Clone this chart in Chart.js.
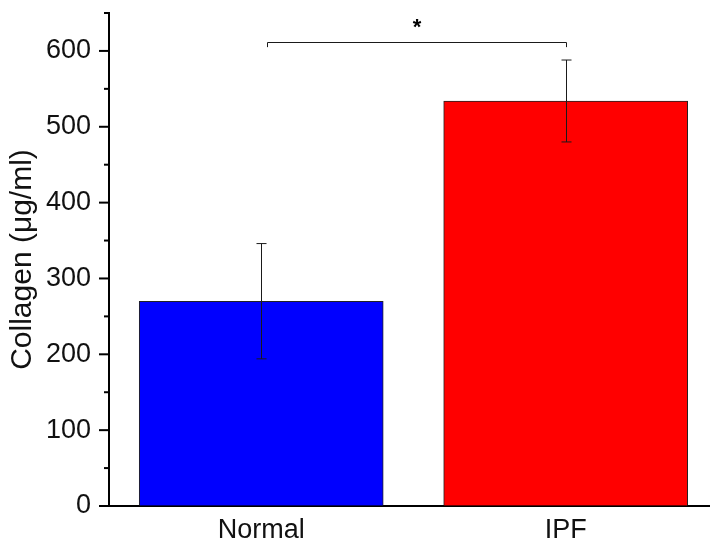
<!DOCTYPE html>
<html>
<head>
<meta charset="utf-8">
<script src="https://cdn.jsdelivr.net/npm/chart.js@4/dist/chart.umd.min.js"></script>
<style>
  html, body { margin: 0; padding: 0; background: #fff; }
  #wrap { position: relative; width: 710px; height: 539px; }
</style>
</head>
<body>
<div id="wrap"><canvas id="collagenChart"></canvas></div>
<script>
// data
const categories = ['Normal', 'IPF'];
const xPositions = [1, 2];
const collagenMean = [270, 534];
const collagenErr = [76, 54];
const barColors = ['#0000ff', '#ff0000'];
const yMin = 0;
const yMax = 650;
const yStep = 50;
const yLabelStep = 100;
const sigFrom = 1.02;
const sigTo = 2;
const sigLevel = 612;
const sigDrop = 7;
const sigText = '*';

const FONT = "'Liberation Sans', Arial, sans-serif";

const overlay = {
    id: 'overlay',
    afterDraw(chart) {
        const ctx = chart.ctx;
        const xs = chart.scales.x;
        const ys = chart.scales.y;
        ctx.save();

        // error bars
        ctx.strokeStyle = '#1a1a1a';
        ctx.lineWidth = 1;
        collagenMean.forEach((m, i) => {
            const x = Math.round(xs.getPixelForValue(xPositions[i])) + 0.5;
            const top = ys.getPixelForValue(m + collagenErr[i]);
            const bot = ys.getPixelForValue(m - collagenErr[i]);
            ctx.beginPath();
            ctx.moveTo(x, top);
            ctx.lineTo(x, bot);
            ctx.moveTo(x - 5, top);
            ctx.lineTo(x + 5, top);
            ctx.moveTo(x - 5, bot);
            ctx.lineTo(x + 5, bot);
            ctx.stroke();
        });

        // significance bracket
        const bx1 = Math.round(xs.getPixelForValue(sigFrom)) + 0.5;
        const bx2 = Math.round(xs.getPixelForValue(sigTo)) + 0.5;
        const by = Math.round(ys.getPixelForValue(sigLevel)) + 0.5;
        const byDrop = ys.getPixelForValue(sigLevel - sigDrop);
        ctx.beginPath();
        ctx.moveTo(bx1, byDrop);
        ctx.lineTo(bx1, by);
        ctx.lineTo(bx2, by);
        ctx.lineTo(bx2, byDrop);
        ctx.stroke();

        ctx.fillStyle = '#000';
        ctx.font = 'bold 22px ' + FONT;
        ctx.textAlign = 'center';
        ctx.textBaseline = 'bottom';
        ctx.fillText(sigText, (bx1 + bx2) / 2, by - 4);

        // outward y ticks, long for labelled values
        ctx.strokeStyle = '#000';
        ctx.lineWidth = 2;
        ys.ticks.forEach(t => {
            const y = ys.getPixelForValue(t.value);
            const len = t.value % yLabelStep === 0 ? 10 : 5;
            ctx.beginPath();
            ctx.moveTo(ys.right - len, y);
            ctx.lineTo(ys.right, y);
            ctx.stroke();
        });
        ctx.restore();
    }
};

new Chart(document.getElementById('collagenChart'), {
    type: 'bar',
    data: {
        datasets: [{
            data: collagenMean.map((v, i) => ({ x: xPositions[i], y: v })),
            backgroundColor: barColors,
            borderColor: '#222',
            borderWidth: 1,
            barThickness: 244
        }]
    },
    options: {
        responsive: true,
        maintainAspectRatio: false,
        animation: false,
        layout: { padding: { top: 13, right: 0, left: 0, bottom: 0 } },
        plugins: { legend: { display: false }, tooltip: { enabled: false } },
        scales: {
            x: {
                type: 'linear',
                offset: false,
                min: 0.5,
                max: 2.474,
                afterBuildTicks: s => { s.ticks = xPositions.map(v => ({ value: v })); },
                afterFit: s => { s.height = 33; s.paddingLeft = 0; s.paddingRight = 0; },
                grid: { offset: false, drawOnChartArea: false, drawTicks: false },
                border: { color: '#000', width: 2 },
                ticks: {
                    padding: 8,
                    color: '#111',
                    font: { family: FONT, size: 27 },
                    callback: v => categories[xPositions.indexOf(v)] || ''
                }
            },
            y: {
                min: yMin,
                max: yMax,
                afterFit: s => { s.width = 109; s.paddingTop = 0; s.paddingBottom = 0; },
                grid: { drawOnChartArea: false, drawTicks: false },
                border: { color: '#000', width: 2 },
                ticks: {
                    stepSize: yStep,
                    padding: 18,
                    color: '#111',
                    autoSkip: false,
                    font: { family: FONT, size: 27 },
                    callback: v => (v % yLabelStep === 0 ? v : '')
                },
                title: {
                    display: true,
                    text: 'Collagen (μg/ml)',
                    color: '#111',
                    font: { family: FONT, size: 30 },
                    padding: { top: 5, bottom: 0 }
                }
            }
        }
    },
    plugins: [overlay]
});
</script>
</body>
</html>
